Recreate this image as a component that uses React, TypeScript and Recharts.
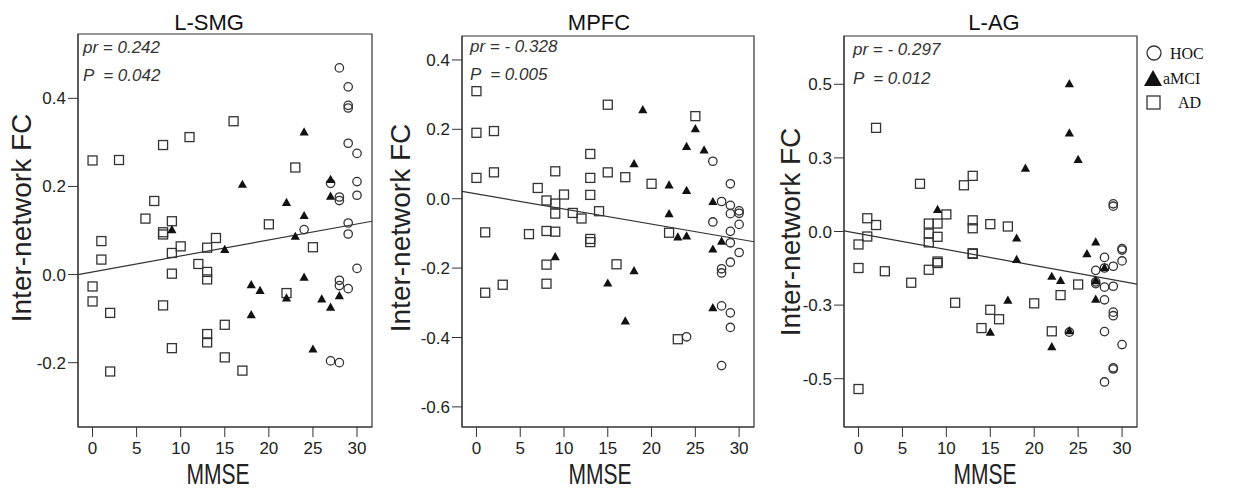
import React from 'react';
import { ScatterChart, Scatter, XAxis, YAxis, ReferenceLine, ReferenceArea } from 'recharts';

type Pt = [number, number];

// MMSE axis (shared by all three panels)
const mmseTicks = [0, 5, 10, 15, 20, 25, 30];
const mmseDomain: [number, number] = [-1.65, 31.7];

// L-SMG
const smgHOC: Pt[] = [
  [28, 0.469], [29, 0.426], [29, 0.384], [29, 0.378], [29, 0.298], [30, 0.275], [30, 0.211],
  [27, 0.207], [30, 0.18], [28, 0.176], [28, 0.168], [29, 0.117], [29, 0.092], [24, 0.102],
  [30, 0.014], [28, -0.013], [28, -0.025], [29, -0.032], [27, -0.196], [28, -0.2],
];
const smgMCI: Pt[] = [
  [24, 0.324], [17, 0.205], [22, 0.164], [24, 0.134], [27, 0.216], [27, 0.178], [23, 0.087],
  [9, 0.102], [15, 0.057], [18, -0.023], [19, -0.036], [24, -0.006], [22, -0.053], [26, -0.055],
  [27, -0.074], [28, -0.048], [18, -0.091], [25, -0.169],
];
const smgAD: Pt[] = [
  [0, 0.259], [3, 0.26], [8, 0.294], [11, 0.312], [16, 0.348], [23, 0.243], [7, 0.167], [6, 0.127],
  [9, 0.121], [8, 0.096], [8, 0.091], [1, 0.076], [20, 0.114], [14, 0.083], [10, 0.064], [13, 0.061],
  [25, 0.062], [1, 0.034], [9, 0.049], [12, 0.024], [13, 0.006], [13, -0.011], [9, 0.002], [0, -0.027],
  [0, -0.061], [2, -0.087], [8, -0.07], [22, -0.042], [15, -0.114], [13, -0.135], [13, -0.154],
  [9, -0.167], [15, -0.188], [17, -0.218], [2, -0.22],
];
const smgTicks = [-0.2, 0, 0.2, 0.4];
const smgDomain: [number, number] = [-0.346, 0.546];
const smgFit = [0.0, 0.121]; // fitted FC at both ends of the MMSE axis

// MPFC
const mpfcHOC: Pt[] = [
  [27, 0.108], [29, 0.043], [28, -0.008], [29, -0.019], [30, -0.035], [30, -0.042], [29, -0.043],
  [27, -0.067], [30, -0.074], [29, -0.094], [29, -0.127], [30, -0.155], [29, -0.183], [28, -0.202],
  [28, -0.214], [28, -0.309], [29, -0.329], [29, -0.371], [24, -0.398], [28, -0.481],
];
const mpfcMCI: Pt[] = [
  [19, 0.257], [25, 0.202], [24, 0.151], [26, 0.141], [18, 0.101], [22, 0.04], [24, 0.024],
  [22, -0.043], [27, -0.008], [23, -0.11], [24, -0.107], [28, -0.122], [27, -0.145], [9, -0.167],
  [18, -0.207], [15, -0.243], [17, -0.352], [27, -0.314],
];
const mpfcAD: Pt[] = [
  [0, 0.31], [0, 0.19], [2, 0.195], [0, 0.06], [2, 0.076], [15, 0.271], [25, 0.238], [13, 0.129],
  [9, 0.079], [15, 0.076], [13, 0.06], [17, 0.062], [7, 0.031], [20, 0.043], [10, 0.012], [13, 0.011],
  [8, -0.005], [9, -0.014], [9, -0.043], [11, -0.041], [14, -0.036], [12, -0.057], [1, -0.097],
  [6, -0.102], [8, -0.093], [9, -0.095], [13, -0.116], [13, -0.125], [22, -0.098], [8, -0.19],
  [8, -0.245], [1, -0.271], [3, -0.248], [16, -0.189], [23, -0.405],
];
const mpfcTicks = [-0.6, -0.4, -0.2, 0, 0.2, 0.4];
const mpfcDomain: [number, number] = [-0.658, 0.469];
const mpfcFit = [0.021, -0.124];

// L-AG
const agHOC: Pt[] = [
  [29, 0.094], [29, 0.086], [30, -0.058], [30, -0.063], [30, -0.1], [28, -0.088], [29, -0.118],
  [27, -0.132], [28, -0.124], [27, -0.171], [27, -0.177], [28, -0.189], [29, -0.186], [28, -0.232],
  [29, -0.274], [29, -0.286], [24, -0.342], [28, -0.34], [30, -0.384], [29, -0.463], [29, -0.467],
  [28, -0.511],
];
const agMCI: Pt[] = [
  [24, 0.502], [24, 0.335], [25, 0.245], [19, 0.215], [9, 0.075], [18, -0.022], [27, -0.035],
  [18, -0.095], [26, -0.075], [22, -0.152], [23, -0.166], [27, -0.167], [28, -0.122], [17, -0.233],
  [27, -0.23], [15, -0.342], [24, -0.337], [22, -0.391],
];
const agAD: Pt[] = [
  [2, 0.352], [7, 0.162], [12, 0.157], [13, 0.189], [1, 0.045], [2, 0.022], [8, 0.027], [9, 0.027],
  [10, 0.058], [13, 0.038], [13, 0.011], [15, 0.025], [17, 0.017], [8, -0.007], [9, -0.018],
  [1, -0.017], [0, -0.044], [8, -0.037], [13, -0.074], [13, -0.076], [0, -0.124], [3, -0.135],
  [6, -0.174], [8, -0.13], [9, -0.102], [9, -0.107], [11, -0.242], [20, -0.244], [23, -0.216],
  [25, -0.18], [15, -0.266], [16, -0.298], [14, -0.328], [22, -0.339], [0, -0.535],
];
const agTicks = [-0.5, -0.25, 0, 0.25, 0.5];
const agDomain: [number, number] = [-0.664, 0.664];
const agFit = [0.002, -0.179];

const toPts = (a: Pt[]) => a.map(([x, y]) => ({ x, y }));

const INK = '#333';
const FONT = '"Liberation Sans", Arial, sans-serif';
const SERIF = '"Liberation Serif", "Times New Roman", serif';

const OpenCircle = (p: any) => (
  <circle cx={p.cx} cy={p.cy} r={4.2} fill="none" stroke={INK} strokeWidth={1.3} />
);
const OpenSquare = (p: any) => (
  <rect x={p.cx - 4.5} y={p.cy - 4.5} width={9} height={9} fill="none" stroke={INK} strokeWidth={1.3} />
);
const Triangle = (p: any) => (
  <polygon
    points={`${p.cx},${p.cy - 4.6} ${p.cx - 4.6},${p.cy + 3.6} ${p.cx + 4.6},${p.cy + 3.6}`}
    fill="#111"
  />
);

interface PanelProps {
  left: number;
  width: number;
  yAxisW: number;
  top: number;
  right: number;
  hoc: Pt[];
  mci: Pt[];
  ad: Pt[];
  yTicks: number[];
  yDomain: [number, number];
  fit: number[];
}

const Panel: React.FC<PanelProps> = ({ left, width, yAxisW, top, right, hoc, mci, ad, yTicks, yDomain, fit }) => {
  const tick = { fill: '#222', fontSize: 17, fontFamily: FONT };
  return (
    <div style={{ position: 'absolute', left, top: 0 }}>
      <ScatterChart width={width} height={491} margin={{ top, right, bottom: 0, left: 0 }}>
        <XAxis
          type="number"
          dataKey="x"
          domain={mmseDomain}
          ticks={mmseTicks}
          allowDataOverflow
          interval={0}
          height={64}
          tickSize={10}
          tickMargin={5}
          tick={tick}
          axisLine={{ stroke: INK }}
          tickLine={{ stroke: INK }}
        />
        <YAxis
          type="number"
          dataKey="y"
          domain={yDomain}
          ticks={yTicks}
          allowDataOverflow
          interval={0}
          width={yAxisW}
          tickSize={10}
          tickMargin={2}
          tick={tick}
          tickFormatter={(v: number) => v.toFixed(1)}
          axisLine={{ stroke: INK }}
          tickLine={{ stroke: INK }}
        />
        <ReferenceArea
          x1={mmseDomain[0]}
          x2={mmseDomain[1]}
          y1={yDomain[0]}
          y2={yDomain[1]}
          fill="none"
          stroke={INK}
          strokeWidth={1.2}
          ifOverflow="visible"
        />
        <ReferenceLine
          segment={[
            { x: mmseDomain[0], y: fit[0] },
            { x: mmseDomain[1], y: fit[1] },
          ]}
          stroke={INK}
          strokeWidth={1.2}
          ifOverflow="visible"
        />
        <Scatter data={toPts(ad)} shape={OpenSquare} isAnimationActive={false} />
        <Scatter data={toPts(hoc)} shape={OpenCircle} isAnimationActive={false} />
        <Scatter data={toPts(mci)} shape={Triangle} isAnimationActive={false} />
      </ScatterChart>
    </div>
  );
};

const Txt: React.FC<{ x: number; y: number; size: number; center?: boolean; style?: React.CSSProperties; children: React.ReactNode }> = ({
  x, y, size, center, style, children,
}) => (
  <div
    style={{
      position: 'absolute',
      left: x,
      top: y - size / 2,
      fontSize: size,
      lineHeight: `${size}px`,
      whiteSpace: 'nowrap',
      transform: center ? 'translateX(-50%)' : undefined,
      ...style,
    }}
  >
    {children}
  </div>
);

const YLabel: React.FC<{ x: number; y: number }> = ({ x, y }) => (
  <div
    style={{
      position: 'absolute',
      left: x,
      top: y,
      fontSize: 28,
      lineHeight: '28px',
      whiteSpace: 'nowrap',
      color: '#222',
      transform: 'translate(-50%, -50%) rotate(-90deg)',
    }}
  >
    Inter-network FC
  </div>
);

const XLabel: React.FC<{ x: number }> = ({ x }) => (
  <div
    style={{
      position: 'absolute',
      left: x,
      top: 474,
      fontSize: 30,
      lineHeight: '30px',
      whiteSpace: 'nowrap',
      color: '#222',
      transform: 'translate(-50%, -50%) scaleX(0.7)',
    }}
  >
    MMSE
  </div>
);

const statStyle: React.CSSProperties = { fontStyle: 'italic', color: '#333' };

const App: React.FC = () => {
  return (
    <div
      style={{
        position: 'absolute',
        left: 0,
        top: 0,
        width: 1234,
        height: 491,
        background: '#fff',
        fontFamily: FONT,
        overflow: 'hidden',
      }}
    >
      <Panel left={0} width={390} yAxisW={78} top={34} right={18} hoc={smgHOC} mci={smgMCI} ad={smgAD}
        yTicks={smgTicks} yDomain={smgDomain} fit={smgFit} />
      <Panel left={390} width={390} yAxisW={72} top={36} right={26} hoc={mpfcHOC} mci={mpfcMCI} ad={mpfcAD}
        yTicks={mpfcTicks} yDomain={mpfcDomain} fit={mpfcFit} />
      <Panel left={780} width={454} yAxisW={64} top={36} right={97} hoc={agHOC} mci={agMCI} ad={agAD}
        yTicks={agTicks} yDomain={agDomain} fit={agFit} />

      {/* titles */}
      <Txt x={209} y={23} size={22} center style={{ color: '#111' }}>L-SMG</Txt>
      <Txt x={599} y={23} size={22} center style={{ color: '#111' }}>MPFC</Txt>
      <Txt x={994} y={23} size={22} center style={{ color: '#111' }}>L-AG</Txt>

      {/* correlation stats */}
      <Txt x={83} y={47} size={17} style={statStyle}>pr = 0.242</Txt>
      <Txt x={83} y={75} size={17} style={{ ...statStyle, whiteSpace: 'pre' }}>P  = 0.042</Txt>
      <Txt x={470} y={46} size={17} style={statStyle}>pr = - 0.328</Txt>
      <Txt x={470} y={74} size={17} style={{ ...statStyle, whiteSpace: 'pre' }}>P  = 0.005</Txt>
      <Txt x={853} y={49} size={17} style={statStyle}>pr = - 0.297</Txt>
      <Txt x={853} y={78} size={17} style={{ ...statStyle, whiteSpace: 'pre' }}>P  = 0.012</Txt>

      {/* axis titles */}
      <YLabel x={22} y={218} />
      <YLabel x={401} y={228} />
      <YLabel x={791} y={232} />
      <XLabel x={218} />
      <XLabel x={600} />
      <XLabel x={985} />

      {/* group legend */}
      <svg style={{ position: 'absolute', left: 1140, top: 40 }} width={94} height={78}>
        <circle cx={14} cy={13} r={7} fill="none" stroke={INK} strokeWidth={1.3} />
        <text x={30} y={18.5} fontSize={16} fontFamily={SERIF} fill="#111">HOC</text>
        <polygon points="13,30 4,46 22,46" fill="#111" />
        <text x={23} y={44} fontSize={16} fontFamily={SERIF} fill="#111">aMCI</text>
        <rect x={7} y={56} width={13} height={13} fill="none" stroke={INK} strokeWidth={1.3} />
        <text x={38} y={68} fontSize={16} fontFamily={SERIF} fill="#111">AD</text>
      </svg>
    </div>
  );
};

export default App;
